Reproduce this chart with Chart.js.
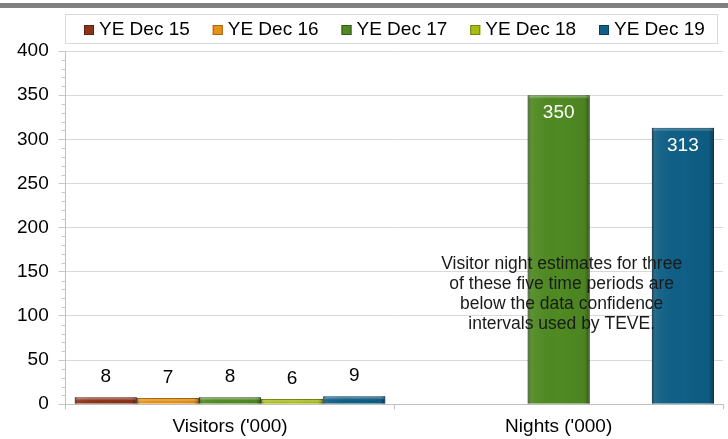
<!DOCTYPE html>
<html>
<head>
<meta charset="utf-8">
<script src="https://cdn.jsdelivr.net/npm/chart.js@4/dist/chart.umd.min.js"></script>
<style>
    body {
        margin: 0;
        padding: 0;
        background: #fff;
        font-family: "Liberation Sans", Arial, sans-serif;
    }

    #wrap {
        width: 728px;
        height: 439px;
    }
</style>
</head>
<body>
<div id="wrap"><canvas id="chart"></canvas></div>
<script>
    // data
    const categories = ["Visitors ('000)", "Nights ('000)"];
    const seriesNames = ["YE Dec 15", "YE Dec 16", "YE Dec 17", "YE Dec 18", "YE Dec 19"];
    const visitors = [8, 7, 8, 6, 9];
    const nights = [null, null, 350, null, 313];
    const yTicks = [0, 50, 100, 150, 200, 250, 300, 350, 400];
    const note = [
        "Visitor night estimates for three",
        "of these five time periods are",
        "below the data confidence",
        "intervals used by TEVE."
    ];

    const colors = ["#8c3318", "#e4921a", "#4f8a22", "#a8bc16", "#0f5f86"];
    const edges = ["#5e2010", "#a8680e", "#345c16", "#76840e", "#083e58"];
    const FONT = "'Liberation Sans', Arial, sans-serif";

    const datasets = seriesNames.map((name, i) => ({
        label: name,
        data: [visitors[i], nights[i]],
        backgroundColor: colors[i],
        borderColor: edges[i],
        borderWidth: 1,
        borderSkipped: "bottom"
    }));

    // gray band, legend box, minor ticks, value labels, note
    const extras = {
        id: "extras",
        beforeDraw(chart) {
            const c = chart.ctx;
            c.save();
            c.fillStyle = "#808080";
            c.fillRect(0, 3, chart.width, 5);
            c.restore();
        },
        afterDatasetsDraw(chart) {
            const c = chart.ctx;
            const y = chart.scales.y;
            const x = chart.scales.x;
            const area = chart.chartArea;

            // bevel look on bars
            chart.data.datasets.forEach((ds, di) => {
                chart.getDatasetMeta(di).data.forEach((el, i) => {
                    if (ds.data[i] == null) return;
                    const l = el.x - el.width / 2, w = el.width;
                    const g = c.createLinearGradient(l, 0, l + w, 0);
                    g.addColorStop(0, "rgba(0,0,0,0.35)");
                    g.addColorStop(0.08, "rgba(255,255,255,0.06)");
                    g.addColorStop(0.5, "rgba(0,0,0,0)");
                    g.addColorStop(0.92, "rgba(0,0,0,0.05)");
                    g.addColorStop(1, "rgba(0,0,0,0.4)");
                    c.fillStyle = g;
                    c.fillRect(l, el.y, w, el.base - el.y);
                    c.fillStyle = "rgba(255,255,255,0.18)";
                    c.fillRect(l + 1, el.y + 1, w - 2, 2);
                });
            });

            // minor ticks
            c.save();
            c.strokeStyle = "#c8c8c8";
            c.lineWidth = 1;
            for (let v = 10; v < 400; v += 10) {
                if (v % 50 === 0) continue;
                const py = Math.round(y.getPixelForValue(v)) + 0.5;
                c.beginPath();
                c.moveTo(area.left - 4, py);
                c.lineTo(area.left, py);
                c.stroke();
            }
            c.restore();

            // value labels
            c.save();
            c.font = "19px " + FONT;
            c.textAlign = "center";
            chart.data.datasets.forEach((ds, di) => {
                chart.getDatasetMeta(di).data.forEach((el, i) => {
                    const v = ds.data[i];
                    if (v == null) return;
                    if (i === 0) {
                        c.fillStyle = "#000";
                        c.textBaseline = "alphabetic";
                        c.fillText(String(v), el.x, el.y - 15);
                    } else {
                        c.fillStyle = "#fff";
                        c.textBaseline = "middle";
                        c.fillText(String(v), el.x, el.y + 18);
                    }
                });
            });
            c.restore();

            // note over the nights group
            c.save();
            c.font = "17.5px " + FONT;
            c.fillStyle = "#1a1a1a";
            c.textAlign = "center";
            c.textBaseline = "middle";
            const nx = x.getPixelForValue(1) + 3;
            const ny = y.getPixelForValue(159);
            note.forEach((line, k) => c.fillText(line, nx, ny + k * 20));
            c.restore();

            // legend
            c.save();
            c.strokeStyle = "#d9d9d9";
            c.lineWidth = 1;
            c.strokeRect(65.5, 14.5, 652, 29);
            c.font = "19px " + FONT;
            c.textBaseline = "middle";
            c.textAlign = "left";
            chart.data.datasets.forEach((ds, i) => {
                const lx = 84 + i * 128.75;
                const ly = 25;
                c.fillStyle = ds.backgroundColor;
                c.fillRect(lx, ly, 10, 10);
                c.strokeStyle = ds.borderColor;
                c.strokeRect(lx + 0.5, ly + 0.5, 9, 9);
                c.fillStyle = "#000";
                c.fillText(ds.label, lx + 15, ly + 5);
            });
            c.restore();
        }
    };

    new Chart("chart", {
        type: "bar",
        data: {
            labels: categories,
            datasets: datasets
        },
        options: {
            responsive: true,
            maintainAspectRatio: false,
            animation: false,
            layout: {
                padding: { left: 7, right: 5, top: 51, bottom: -5 }
            },
            datasets: {
                bar: {
                    categoryPercentage: 0.945,
                    barPercentage: 1,
                    grouped: true
                }
            },
            plugins: {
                legend: { display: false },
                tooltip: { enabled: false }
            },
            scales: {
                x: {
                    grid: {
                        drawOnChartArea: false,
                        drawTicks: true,
                        tickLength: 5,
                        color: "#bfbfbf"
                    },
                    border: { color: "#bfbfbf" },
                    ticks: {
                        color: "#000",
                        font: { size: 19, family: FONT },
                        padding: 6
                    }
                },
                y: {
                    min: 0,
                    max: 400,
                    afterBuildTicks(scale) {
                        scale.ticks = yTicks.map(v => ({ value: v }));
                    },
                    grid: {
                        color: "#d9d9d9",
                        tickLength: 7,
                        tickColor: "#c8c8c8"
                    },
                    border: { color: "#bfbfbf" },
                    ticks: {
                        color: "#000",
                        font: { size: 19, family: FONT },
                        padding: 10
                    }
                }
            }
        },
        plugins: [extras]
    });
</script>
</body>
</html>
